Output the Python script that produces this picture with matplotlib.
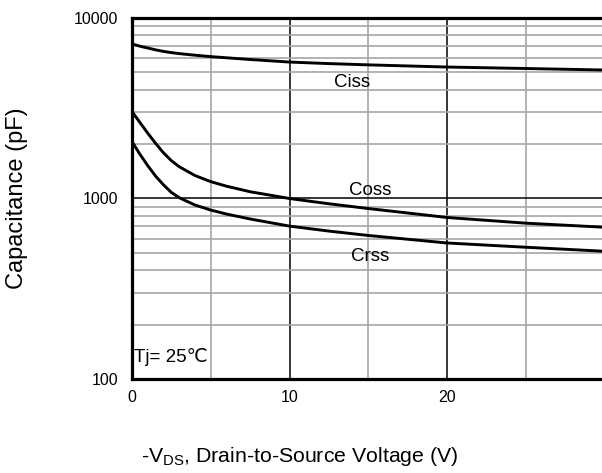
import numpy as np
import matplotlib as mpl
import matplotlib.pyplot as plt
from matplotlib.ticker import FixedLocator, NullFormatter

mpl.rcParams['font.family'] = ['Liberation Sans', 'DejaVu Sans']
mpl.rcParams['mathtext.fontset'] = 'custom'
mpl.rcParams['mathtext.rm'] = 'Liberation Sans'

# values (V, pF)
vds = [0, 0.5, 1, 1.5, 2, 2.5, 3, 4, 5, 6, 7.5, 10, 12.5, 15, 20, 25, 30]
ciss = [7180, 6980, 6820, 6660, 6530, 6430, 6350, 6220, 6110, 6020, 5890,
        5700, 5590, 5500, 5350, 5250, 5150]
coss = [3030, 2640, 2300, 2020, 1790, 1620, 1500, 1340, 1240, 1170, 1090,
        1000, 935, 880, 785, 730, 693]
crss = [2065, 1760, 1520, 1330, 1190, 1080, 1010, 920, 863, 820, 770,
        703, 660, 624, 567, 537, 510]

x_major = [0, 10, 20]
x_minor = [5, 15, 25]
y_major = [100, 1000, 10000]
y_minor = [200, 300, 400, 500, 600, 700, 800, 900,
           2000, 3000, 4000, 5000, 6000, 7000, 8000, 9000]

fig = plt.figure(figsize=(6.02, 4.73), dpi=100)
ax = fig.add_axes([132/602, 94/473, 472.5/602, 361/473])

ax.set_yscale('log')
ax.set_xlim(0, 30)
ax.set_ylim(100, 10000)

ax.xaxis.set_major_locator(FixedLocator(x_major))
ax.xaxis.set_minor_locator(FixedLocator(x_minor))
ax.yaxis.set_major_locator(FixedLocator(y_major))
ax.yaxis.set_minor_locator(FixedLocator(y_minor))
ax.yaxis.set_minor_formatter(NullFormatter())
ax.set_yticklabels([str(v) for v in y_major])

ax.grid(which='minor', color='#a6a6a6', lw=1.2)
ax.grid(which='major', color='black', lw=1.1)
ax.set_axisbelow(True)

for s in ['left', 'bottom', 'top']:
    ax.spines[s].set_linewidth(2.3)
ax.spines['right'].set_visible(False)

ax.tick_params(which='both', length=0, labelsize=11.5)
ax.tick_params(axis='y', pad=10)
ax.tick_params(axis='x', pad=8)

for cap in (ciss, coss, crss):
    ax.plot(vds, cap, color='black', lw=2.1, solid_capstyle='round')

ax.text(13.95, 4365, 'Ciss', fontsize=13.5, ha='center', va='center')
ax.text(15.1, 1107, 'Coss', fontsize=13.5, ha='center', va='center')
ax.text(15.1, 477, 'Crss', fontsize=13.5, ha='center', va='center')
ax.text(0.1, 133, 'Tj= 25℃', fontsize=13.5, ha='left', va='center')

ax.set_xlabel(r'-V$_{\mathregular{DS}}$, Drain-to-Source Voltage (V)', fontsize=15.3)
ax.set_ylabel('Capacitance (pF)', fontsize=17)
ax.xaxis.set_label_coords((300-132)/472.5, (17-94)/361)
ax.xaxis.label.set_va('center')
ax.yaxis.set_label_coords((17-132)/472.5, 0.5)
ax.yaxis.label.set_va('center')

fig.savefig('out.png', dpi=100)
